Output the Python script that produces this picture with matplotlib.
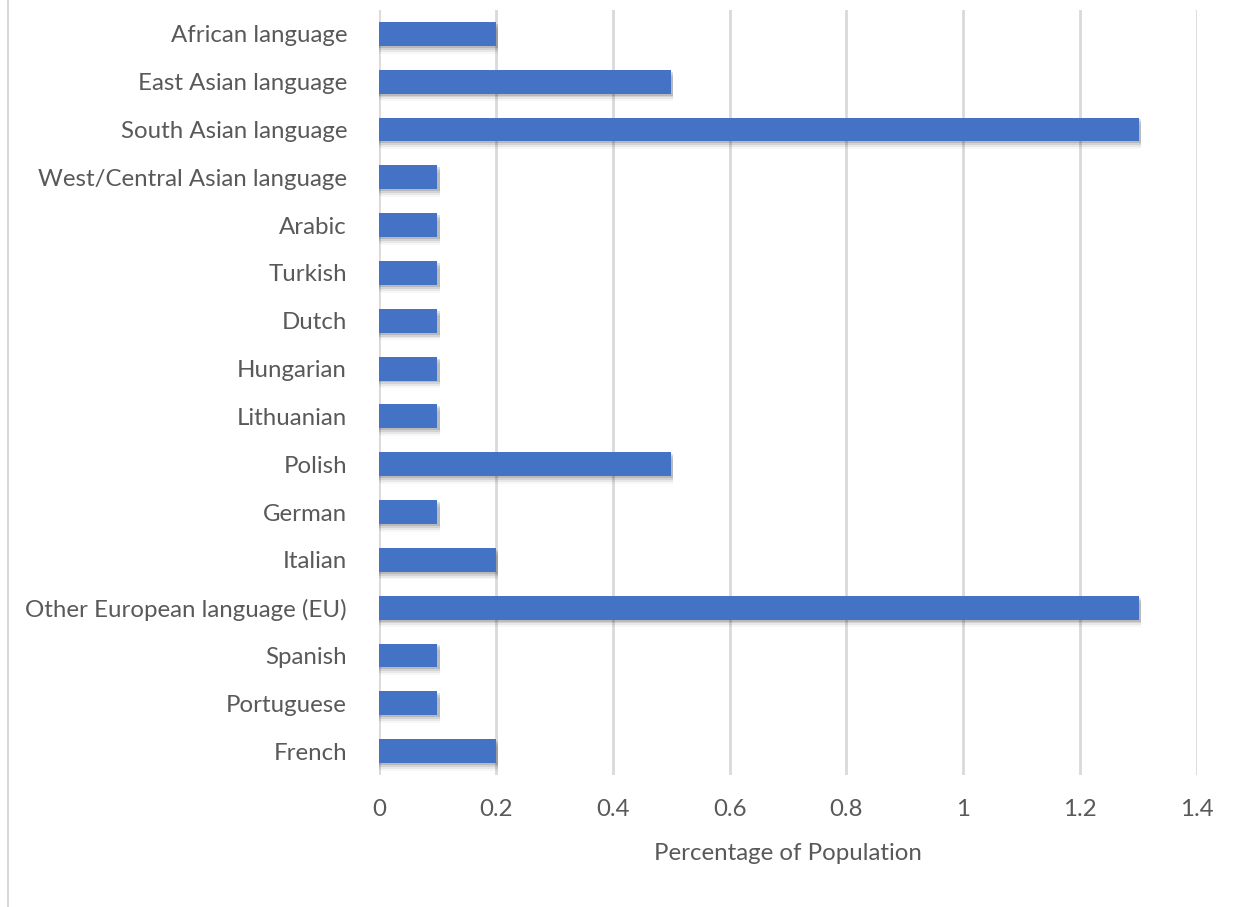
import matplotlib
matplotlib.use("Agg")
import matplotlib.pyplot as plt
from matplotlib.lines import Line2D

categories = ["African language", "East Asian language", "South Asian language",
              "West/Central Asian language", "Arabic", "Turkish", "Dutch", "Hungarian",
              "Lithuanian", "Polish", "German", "Italian", "Other European language (EU)",
              "Spanish", "Portuguese", "French"]
values = [0.2, 0.5, 1.3, 0.1, 0.1, 0.1, 0.1, 0.1, 0.1, 0.5, 0.1, 0.2, 1.3, 0.1, 0.1, 0.2]
xticks = [0, 0.2, 0.4, 0.6, 0.8, 1.0, 1.2, 1.4]
xticklabels = ["0", "0.2", "0.4", "0.6", "0.8", "1", "1.2", "1.4"]

plt.rcParams['font.family'] = ['Lato', 'DejaVu Sans']
W, H = 1242, 907
fig = plt.figure(figsize=(W/100, H/100), dpi=100)
ax = fig.add_axes([379/W, 1-775/H, (1197-379)/W, (775-10)/H])

n = len(categories)
ypos = list(range(n))[::-1]
# soft shadow layers
for k, a in [(0.04, 0.12), (0.08, 0.09), (0.12, 0.06), (0.16, 0.03)]:
    ax.barh([y - k for y in ypos], [v + 0.004 for v in values], height=0.5,
            color="#000000", alpha=a, zorder=2, linewidth=0)
ax.barh(ypos, values, height=0.5, color="#4472C4", zorder=3, linewidth=0)

ax.set_xlim(0, 1.4)
ax.set_ylim(-0.5, n - 0.5)
ax.set_yticks(ypos)
ax.set_yticklabels(categories)
ax.set_xticks(xticks)
ax.set_xticklabels(xticklabels)
ax.tick_params(axis='y', length=0, pad=23, labelsize=17.3, labelcolor="#595959")
ax.tick_params(axis='x', length=0, pad=17, labelsize=17.3, labelcolor="#595959")
ax.grid(axis='x', color="#d9d9d9", linewidth=2, zorder=0)
ax.set_axisbelow(True)
for s in ax.spines.values():
    s.set_visible(False)
ax.set_xlabel("Percentage of Population", fontsize=17.3, color="#595959", labelpad=17)

fig.add_artist(Line2D([8/W, 8/W], [0, 1], color="#d9d9d9", linewidth=1.5, transform=fig.transFigure))

fig.savefig("out.png", dpi=100, facecolor="white")
